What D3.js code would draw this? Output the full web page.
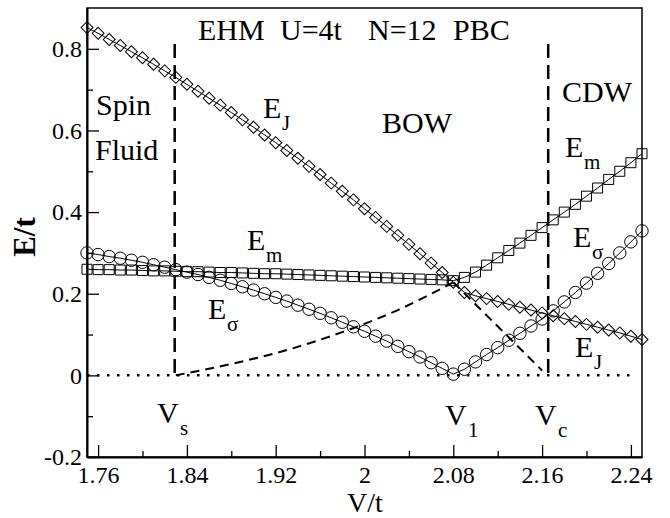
<!DOCTYPE html>
<html>
<head>
<meta charset="utf-8">
<script src="https://cdn.jsdelivr.net/npm/d3@7"></script>
<style>
  body { margin: 0; background: #fff; }
  svg { display: block; }
</style>
</head>
<body>
<svg id="chart" width="670" height="518"></svg>
<script>
// V/t sampling of the three gaps
const vt = [1.75, 1.76, 1.77, 1.78, 1.79, 1.80, 1.81, 1.82, 1.83, 1.84,
  1.85, 1.86, 1.87, 1.88, 1.89, 1.90, 1.91, 1.92, 1.93, 1.94,
  1.95, 1.96, 1.97, 1.98, 1.99, 2.00, 2.01, 2.02, 2.03, 2.04,
  2.05, 2.06, 2.07, 2.08, 2.09, 2.10, 2.11, 2.12, 2.13, 2.14,
  2.15, 2.16, 2.17, 2.18, 2.19, 2.20, 2.21, 2.22, 2.23, 2.24, 2.25];

const eJ = [0.852, 0.838, 0.823, 0.808, 0.793, 0.778, 0.762, 0.746, 0.730, 0.713,
  0.696, 0.679, 0.662, 0.644, 0.626, 0.608, 0.589, 0.570, 0.551, 0.532,
  0.512, 0.492, 0.471, 0.451, 0.430, 0.408, 0.387, 0.365, 0.343, 0.321,
  0.298, 0.275, 0.252, 0.228, 0.203, 0.195, 0.188, 0.181, 0.174, 0.167,
  0.160, 0.153, 0.146, 0.139, 0.132, 0.125, 0.118, 0.111, 0.104, 0.096, 0.088];

const eM = [0.260, 0.259, 0.259, 0.258, 0.258, 0.257, 0.256, 0.256, 0.255, 0.254,
  0.254, 0.253, 0.252, 0.252, 0.251, 0.250, 0.249, 0.249, 0.248, 0.247,
  0.246, 0.245, 0.244, 0.243, 0.242, 0.241, 0.240, 0.239, 0.238, 0.237,
  0.236, 0.235, 0.234, 0.232, 0.240, 0.253, 0.270, 0.288, 0.306, 0.324,
  0.343, 0.362, 0.381, 0.400, 0.419, 0.439, 0.459, 0.480, 0.500, 0.521, 0.543];

const eSigma = [0.300, 0.296, 0.291, 0.287, 0.282, 0.277, 0.271, 0.265, 0.259, 0.253,
  0.247, 0.240, 0.233, 0.225, 0.217, 0.209, 0.200, 0.191, 0.182, 0.172,
  0.162, 0.152, 0.141, 0.130, 0.119, 0.108, 0.096, 0.084, 0.071, 0.058,
  0.045, 0.031, 0.017, 0.003, 0.015, 0.033, 0.051, 0.068, 0.086, 0.103,
  0.121, 0.138, 0.158, 0.180, 0.203, 0.226, 0.250, 0.274, 0.300, 0.327, 0.354];

const xTicks = [1.76, 1.84, 1.92, 2.00, 2.08, 2.16, 2.24];
const xMinor = [1.80, 1.88, 1.96, 2.04, 2.12, 2.20];
const yTicks = [-0.2, 0, 0.2, 0.4, 0.6, 0.8];
const yMinor = [-0.1, 0.1, 0.3, 0.5, 0.7];

// phase boundaries Vs and Vc, and the extrapolation guides
const phaseV = [1.829, 2.1655];
const phaseTop = 0.812;
const guideUp = [[1.83, 0], [1.88, 0.028], [1.93, 0.062], [1.98, 0.106], [2.03, 0.160], [2.08, 0.228]];
const guideDown = [[2.08, 0.228], [2.16, 0.012]];
const zeroLine = [[1.75, 0], [2.245, 0]];

const width = 670, height = 518;
const margin = {top: 8, right: 28, bottom: 61, left: 87};
const serif = "'Liberation Serif'";

const svg = d3.select("#chart");

const x = d3.scaleLinear().domain([1.75, 2.25]).range([margin.left, width - margin.right]);
const y = d3.scaleLinear().domain([-0.2, 0.9]).range([height - margin.bottom, margin.top]);

// frame
svg.append("rect")
  .attr("x", x(1.75)).attr("y", y(0.9))
  .attr("width", x(2.25) - x(1.75)).attr("height", y(-0.2) - y(0.9))
  .attr("fill", "none").attr("stroke", "#000").attr("stroke-width", 1.5);

// axes, ticks pointing into the plot
svg.append("g")
  .attr("transform", `translate(0,${y(-0.2)})`)
  .call(d3.axisBottom(x).tickValues(xTicks).tickSizeInner(-12).tickSizeOuter(0)
    .tickPadding(9).tickFormat(d => String(+d.toFixed(2))));
svg.append("g")
  .attr("transform", `translate(0,${y(-0.2)})`)
  .call(d3.axisBottom(x).tickValues(xMinor).tickSizeInner(-6).tickSizeOuter(0).tickFormat(""))
  .call(g => g.select(".domain").remove());

svg.append("g")
  .attr("transform", `translate(${x(1.75)},0)`)
  .call(d3.axisLeft(y).tickValues(yTicks).tickSizeInner(-12).tickSizeOuter(0)
    .tickPadding(5).tickFormat(d => String(+d.toFixed(1))));
svg.append("g")
  .attr("transform", `translate(${x(1.75)},0)`)
  .call(d3.axisLeft(y).tickValues(yMinor).tickSizeInner(-6).tickSizeOuter(0).tickFormat(""))
  .call(g => g.select(".domain").remove());

svg.selectAll(".domain").attr("stroke-width", 2);
svg.selectAll(".tick line").attr("stroke-width", 1.3);
svg.selectAll(".tick text")
  .attr("font-size", 24)
  .attr("fill", "#000");

// axis titles
svg.append("text")
  .attr("x", 365).attr("y", 512)
  .attr("text-anchor", "middle")
  .attr("font-size", 28)
  .text("V/t");
svg.append("text")
  .attr("transform", "translate(35,237) rotate(-90)")
  .attr("text-anchor", "middle")
  .attr("font-size", 31)
  .attr("font-weight", "bold")
  .text("E/t");

// reference lines
const line = d3.line().x(d => x(d[0])).y(d => y(d[1]));

svg.append("path").datum(zeroLine)
  .attr("d", line).attr("fill", "none").attr("stroke", "#000")
  .attr("stroke-width", 2.5).attr("stroke-dasharray", "2.5,7.5");

svg.selectAll(".phase").data(phaseV).join("line")
  .attr("class", "phase")
  .attr("x1", d => x(d)).attr("x2", d => x(d))
  .attr("y1", y(phaseTop)).attr("y2", y(0))
  .attr("stroke", "#000").attr("stroke-width", 2.5)
  .attr("stroke-dasharray", "14,7");

svg.selectAll(".guide").data([guideUp, guideDown]).join("path")
  .attr("class", "guide")
  .attr("d", d3.line().x(d => x(d[0])).y(d => y(d[1])).curve(d3.curveMonotoneX))
  .attr("fill", "none").attr("stroke", "#000")
  .attr("stroke-width", 2).attr("stroke-dasharray", "9,6");

// series
const series = [
  {name: "EJ", values: eJ, symbol: "diamond"},
  {name: "Em", values: eM, symbol: "square"},
  {name: "Esigma", values: eSigma, symbol: "circle"}
];

const seriesLine = d3.line().x((d, i) => x(vt[i])).y(d => y(d));

series.forEach(s => {
  let g = svg.append("g").attr("class", s.name);
  g.append("path")
    .attr("d", seriesLine(s.values))
    .attr("fill", "none").attr("stroke", "#000").attr("stroke-width", 1);

  let pts = s.values.map((v, i) => [vt[i], v]);
  if (s.symbol === "circle") {
    g.selectAll("circle").data(pts).join("circle")
      .attr("cx", d => x(d[0])).attr("cy", d => y(d[1])).attr("r", 6.2)
      .attr("fill", "none").attr("stroke", "#000").attr("stroke-width", 1);
  } else {
    let sym = d3.symbol().type(d3.symbolSquare).size(s.symbol === "square" ? 100 : 72);
    g.selectAll("path.mk").data(pts).join("path")
      .attr("class", "mk")
      .attr("d", sym)
      .attr("transform", d => `translate(${x(d[0])},${y(d[1])})` + (s.symbol === "diamond" ? " rotate(45)" : ""))
      .attr("fill", "none").attr("stroke", "#000").attr("stroke-width", 1);
  }
});

// annotations
const words = [
  {t: "EHM", x: 198, y: 40}, {t: "U=4t", x: 280, y: 40},
  {t: "N=12", x: 368, y: 40}, {t: "PBC", x: 453, y: 40},
  {t: "Spin", x: 96, y: 115}, {t: "Fluid", x: 95, y: 160},
  {t: "BOW", x: 382, y: 133}, {t: "CDW", x: 562, y: 102}
];
svg.selectAll(".word").data(words).join("text")
  .attr("class", "word")
  .attr("x", d => d.x).attr("y", d => d.y)
  .attr("font-size", 30)
  .text(d => d.t);

const symbols = [
  {main: "E", sub: "J", x: 263, y: 118},
  {main: "E", sub: "m", x: 247, y: 250},
  {main: "E", sub: "σ", x: 208, y: 319},
  {main: "E", sub: "m", x: 565, y: 157},
  {main: "E", sub: "σ", x: 573, y: 247},
  {main: "E", sub: "J", x: 575, y: 357},
  {main: "V", sub: "s", x: 157, y: 423},
  {main: "V", sub: "1", x: 445, y: 425},
  {main: "V", sub: "c", x: 535, y: 425}
];
let lab = svg.selectAll(".sym").data(symbols).join("g").attr("class", "sym");
lab.append("text")
  .attr("x", d => d.x).attr("y", d => d.y)
  .attr("font-size", 30)
  .text(d => d.main);
lab.append("text")
  .attr("x", d => d.x + (d.main === "V" ? 23 : 19)).attr("y", d => d.y + 12)
  .attr("font-size", 21)
  .text(d => d.sub);

// every text in the same serif face
svg.selectAll("g").attr("font-family", null);
svg.selectAll("text").style("font-family", serif).attr("fill", "#000");
</script>
</body>
</html>
